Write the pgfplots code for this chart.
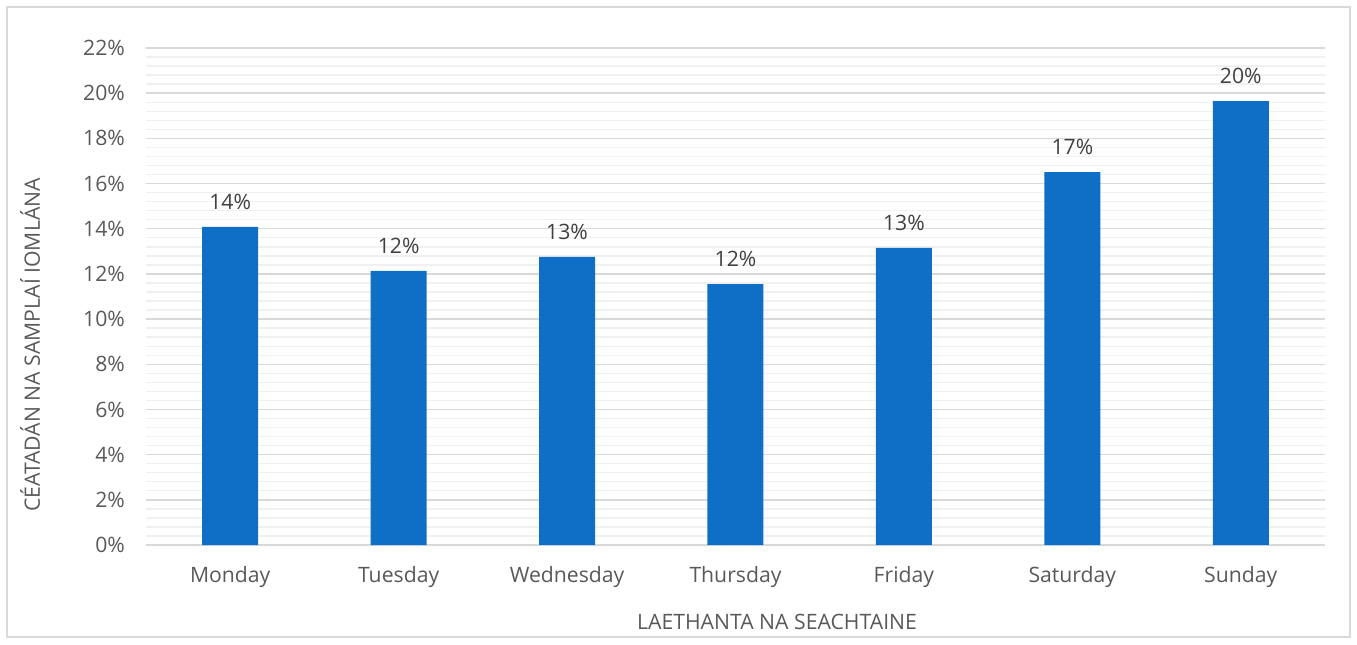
\documentclass[border=0pt]{standalone}
\usepackage{pgfplots}
\pgfplotsset{compat=1.18}
\usepackage{pgfplotstable}
\usepackage{fontspec}
\setmainfont{Open Sans}
\definecolor{barblue}{RGB}{15,111,198}
\definecolor{tickgray}{RGB}{89,89,89}
\definecolor{labgray}{RGB}{64,64,64}
\definecolor{gridmaj}{RGB}{217,217,217}
\definecolor{gridmin}{RGB}{240,240,240}
\definecolor{framegray}{RGB}{217,217,217}
\pgfplotstableread{
x y lab
0 14.08 14\%
1 12.13 12\%
2 12.75 13\%
3 11.55 12\%
4 13.15 13\%
5 16.51 17\%
6 19.65 20\%
}\datatable
\begin{document}
\begin{tikzpicture}
\useasboundingbox (0,0) rectangle (678.5pt,322pt);
\draw[framegray, line width=0.6pt] (3.5pt,3.5pt) rectangle (675pt,318.5pt);
\begin{axis}[
  at={(73pt,49.5pt)}, anchor=south west, scale only axis,
  width=589.5pt, height=248.5pt,
  xmin=-0.5, xmax=6.5, ymin=0, ymax=22,
  ytick={0,2,4,6,8,10,12,14,16,18,20,22},
  yticklabels={0\%,2\%,4\%,6\%,8\%,10\%,12\%,14\%,16\%,18\%,20\%,22\%},
  minor y tick num=4,
  xtick={0,1,2,3,4,5,6},
  xticklabels={Monday,Tuesday,Wednesday,Thursday,Friday,Saturday,Sunday},
  ymajorgrids, yminorgrids,
  major grid style={draw=gridmaj, line width=0.7pt},
  minor grid style={draw=gridmin, line width=0.7pt},
  axis line style={draw=none},
  major tick length=0pt, minor tick length=0pt,
  tick label style={font=\fontsize{10.6}{12}\selectfont, text=tickgray},
  x tick label style={yshift=-7pt},
  y tick label style={xshift=-7pt},
  clip=false,
]
\addplot[ybar, bar width=28pt, fill=barblue, draw=none,
  point meta=explicit symbolic,
  nodes near coords,
  every node near coord/.append style={font=\fontsize{10.6}{12}\selectfont, text=labgray, anchor=south, yshift=5pt}]
  table[x=x, y=y, meta=lab] {\datatable};
\end{axis}
\node[rotate=90, font=\fontsize{10.6}{12}\selectfont, text=tickgray] at (15pt,149.5pt) {CÉATADÁN NA SAMPLAÍ IOMLÁNA};
\node[font=\fontsize{10.6}{12}\selectfont, text=tickgray] at (388.5pt,11pt) {LAETHANTA NA SEACHTAINE};
\end{tikzpicture}
\end{document}
